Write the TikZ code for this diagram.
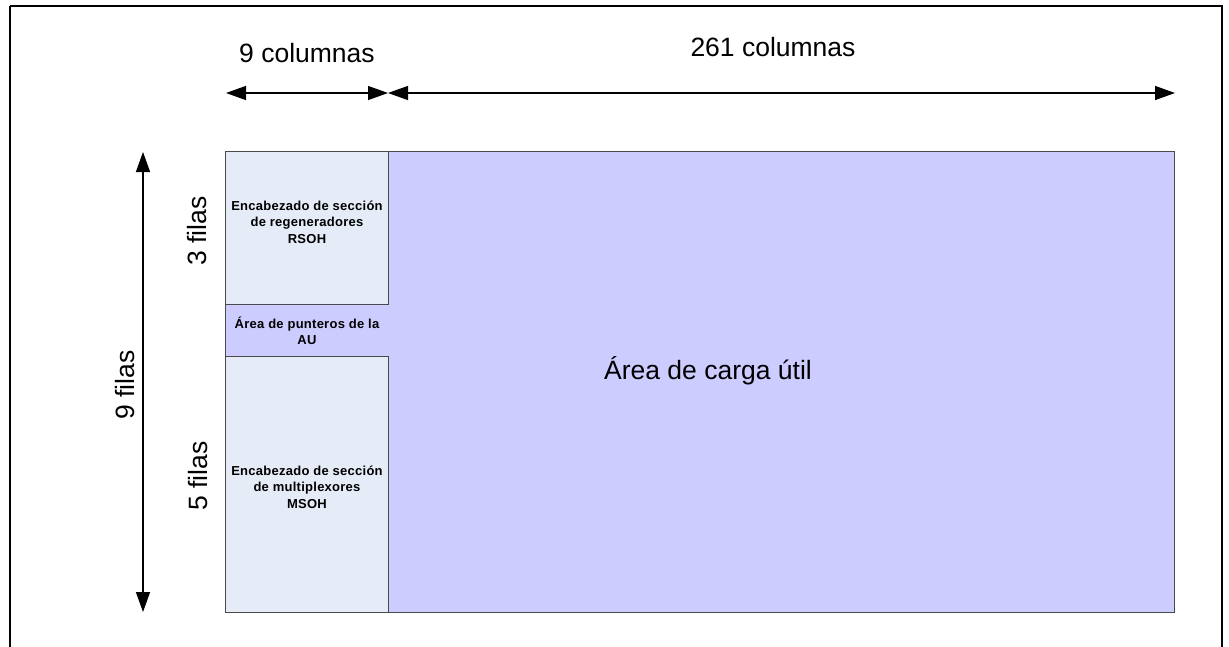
\documentclass[tikz,border=0pt]{standalone}
\usepackage{fontspec}
\setmainfont{Liberation Sans}
\newfontfamily\labelbold[LetterSpace=2]{Liberation Sans Bold}
\usetikzlibrary{arrows.meta}
\definecolor{payloadfill}{HTML}{CCCCFF}
\definecolor{headerfill}{HTML}{E6ECF7}
\definecolor{edgegray}{HTML}{4A4A4A}
\tikzset{
  block/.style={draw=edgegray, line width=1.3pt, anchor=north west, inner sep=0pt},
  headerbox/.style={block, fill=headerfill},
  bigtext/.style={font=\fontsize{26.5}{30}\selectfont, inner sep=0pt},
  smalltext/.style={font=\labelbold\fontsize{13}{16.5}\selectfont, align=center, inner sep=0pt},
  dimarrow/.style={line width=1.4pt, {Triangle[length=20pt,width=14pt]}-{Triangle[length=20pt,width=14pt]}},
}
\begin{document}
\begin{tikzpicture}[x=1pt,y=-1pt]
\useasboundingbox (0,0) rectangle (1229,646);
% outer frame (runs off the lower edge)
\draw[line width=2pt] (10,6) -- (10,660);
\draw[line width=2pt] (10,6) -- (1222,6) -- (1222,660);

% STM-1 frame: payload background, then the overhead blocks
\node[block, fill=payloadfill, minimum width=949pt, minimum height=461pt] (frame) at (225,151) {};
\node[headerbox, minimum width=163pt, minimum height=153pt] (rsoh) at (225,151) {};
\node[headerbox, minimum width=163pt, minimum height=256pt] (msoh) at (225,356) {};

\node[smalltext] (rsohtext) at (307,222) {Encabezado de sección\\de regeneradores\\RSOH};
\node[smalltext] (ptrtext) at (307,331) {Área de punteros de la\\AU};
\node[smalltext] (msohtext) at (307,487) {Encabezado de sección\\de multiplexores\\MSOH};
\node[bigtext] (payload) at (708,371) {Área de carga útil};

% column dimensions
\coordinate (c0) at (226,93);
\coordinate (c1) at (388,93);
\coordinate (c2) at (1175,93);
\draw[dimarrow] (c0) -- (c1);
\draw[dimarrow] (c1) -- (c2);
\node[bigtext] (col9) at (307,53) {9 columnas};
\node[bigtext] (col261) at (773,47) {261 columnas};

% row dimensions
\coordinate (r0) at (143,152);
\coordinate (r1) at (143,612);
\draw[dimarrow] (r0) -- (r1);
\node[bigtext, rotate=90] (rows9) at (125,385) {9 filas};
\node[bigtext, rotate=90] (rows3) at (197,231) {3 filas};
\node[bigtext, rotate=90] (rows5) at (198,476) {5 filas};
\end{tikzpicture}
\end{document}
